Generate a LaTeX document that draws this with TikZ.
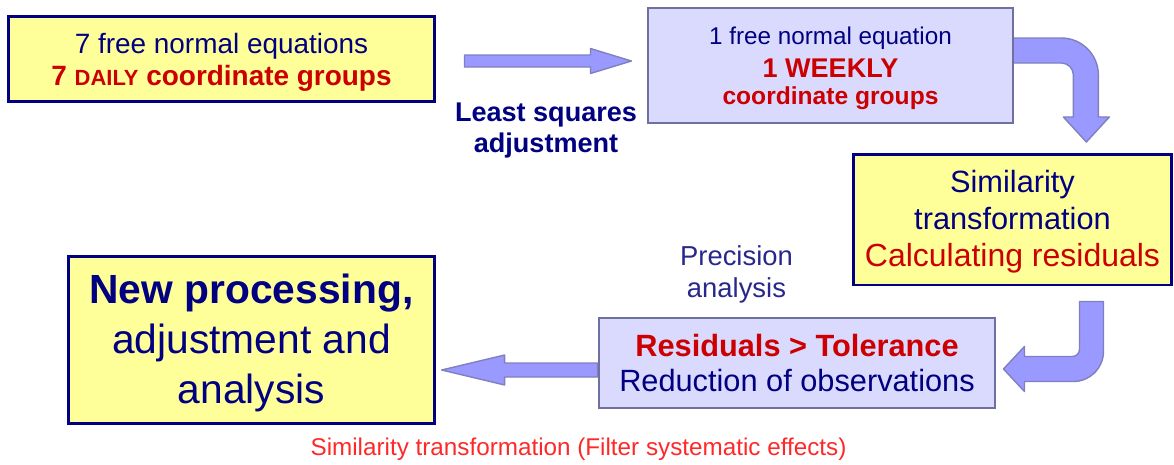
\documentclass[tikz,border=0pt]{standalone}
\usepackage{fontspec}
\setmainfont{Liberation Sans}
\usetikzlibrary{calc}
\pgfdeclarelayer{background}
\pgfsetlayers{background,main}
\definecolor{navy}{RGB}{0,0,128}
\definecolor{softnavy}{RGB}{40,40,140}
\definecolor{darkred}{RGB}{204,0,0}
\definecolor{brightred}{RGB}{255,40,40}
\definecolor{paleyellow}{RGB}{255,255,153}
\definecolor{lavfill}{RGB}{218,218,255}
\definecolor{lavline}{RGB}{112,112,160}
\definecolor{arrowblue}{RGB}{153,153,255}
\definecolor{arrowline}{RGB}{128,128,192}
\tikzstyle{yellowblock}=[rectangle, draw=navy, fill=paleyellow, line width=1.7pt, align=center, text=navy, inner sep=0pt]
\tikzstyle{lavblock}=[rectangle, draw=lavline, fill=lavfill, line width=1.6pt, align=center, text=navy, inner sep=0pt]
\tikzstyle{blockarrow}=[fill=arrowblue, draw=arrowline, line width=0.8pt, line join=round]

\begin{document}
\begin{tikzpicture}[x=0.02cm, y=-0.02cm, every node/.style = {font=\normalsize}]
\useasboundingbox (0,0) rectangle (1174,464);

\node[yellowblock, minimum width=8.54cm, minimum height=1.70cm, font=\fontsize{15.9}{18.2}\selectfont] (daily) at (221.5,59) {\rule{0pt}{15pt}7 free normal equations\\ \textcolor{darkred}{\bfseries 7 {\fontsize{12.5}{18.2}\selectfont DAILY} coordinate groups}};
\node[lavblock, minimum width=7.30cm, minimum height=2.30cm, font=\fontsize{13.8}{15.4}\selectfont] (weekly) at (830.5,65.5) {\rule{0pt}{13.5pt}1 free normal equation\\[3.4pt] \textcolor{darkred}{\bfseries\fontsize{15.4}{15.4}\selectfont 1 WEEKLY}\\ \textcolor{darkred}{\bfseries\fontsize{14}{15.4}\selectfont coordinate groups}};
\node[yellowblock, minimum width=6.38cm, minimum height=2.62cm, font=\fontsize{17.5}{21}\selectfont] (simil) at (1012.5,219.5) {\rule{0pt}{15.6pt}Similarity\\ transformation\\ \textcolor{darkred}{\fontsize{18.2}{21}\selectfont Calculating residuals}};
\node[yellowblock, minimum width=7.34cm, minimum height=3.36cm, font=\fontsize{23.2}{28.5}\selectfont] (newproc) at (251.5,340) {\rule{0pt}{20.3pt}\textbf{New processing,}\\ adjustment and\\ analysis};
\node[lavblock, minimum width=7.92cm, minimum height=1.80cm, font=\fontsize{17.5}{20}\selectfont] (resid) at (797,363) {\textcolor{darkred}{\bfseries Residuals > Tolerance}\\ Reduction of observations};

\node[text=navy, font=\bfseries\fontsize{15.4}{17.6}\selectfont, align=center, inner sep=0pt] (lsq) at (546,130.6) {Least squares\\ adjustment};
\node[text=softnavy, font=\fontsize{15.6}{18.2}\selectfont, align=center, inner sep=0pt] (prec) at (736.5,274) {Precision\\ analysis};
\node[text=brightred, font=\fontsize{13.8}{16}\selectfont, anchor=base, inner sep=0pt] (filt) at (578.5,455) {Similarity transformation (Filter systematic effects)};

\begin{pgfonlayer}{background}
% block arrows between the boxes
\draw[blockarrow] ($(daily.east)+(28,-4)$) -- ++(126,0) -- ++(0,-6.5) -- ++(41,12.5) -- ++(-41,12.5) -- ++(0,-6.5) -- ++(-126,0) -- cycle;
\draw[blockarrow] ($(weekly.east)+(-2,-27.5)$) -- ++(49,0) arc[start angle=90, end angle=0, radius=0.74cm] -- ++(0,42) -- ++(11,0) -- ++(-23,25) -- ++(-23,-25) -- ++(10,0) -- ++(0,-42) arc[start angle=0, end angle=90, radius=0.24cm] -- ++(-49,0) -- cycle;
\draw[blockarrow] ($(simil.south east)+(-94,15)$) -- ++(24,0) -- ++(0,50) arc[start angle=0, end angle=-90, radius=0.6cm] -- ++(-49,0) -- ++(0,10) -- ++(-21,-22.5) -- ++(21,-22.5) -- ++(0,10) -- ++(48,0) arc[start angle=-90, end angle=0, radius=0.14cm] -- cycle;
\draw[blockarrow] (resid.west) -- ++(-93,0) -- ++(0,-8) -- ++(-63,15) -- ++(63,15) -- ++(0,-8) -- ++(93,0) -- cycle;
\end{pgfonlayer}

\end{tikzpicture}
\end{document}
